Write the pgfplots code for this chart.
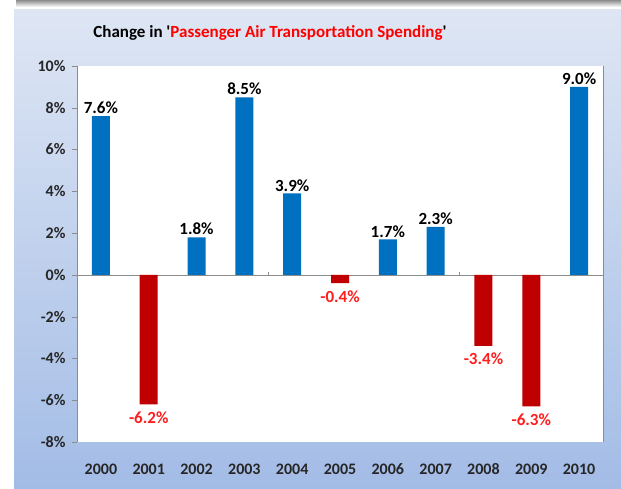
\documentclass[border=0pt]{standalone}
\usepackage{pgfplots}
\pgfplotsset{compat=1.18}
\usepackage{fontspec}
\setmainfont{Carlito}[Ligatures=TeXOff]
\definecolor{barblue}{RGB}{0,112,192}
\definecolor{barred}{RGB}{192,0,0}
\definecolor{labred}{RGB}{255,30,30}
\definecolor{frtop}{RGB}{222,230,244}
\definecolor{frbot}{RGB}{163,188,230}
\begin{document}
\begin{tikzpicture}
\useasboundingbox (0pt,0pt) rectangle (621pt,489pt);
\fill[white] (0pt,0pt) rectangle (621pt,489pt);
\shade[top color=black!45, bottom color=white] (16pt,489pt) rectangle (621pt,482pt);
\shade[top color=frtop, bottom color=frbot] (14pt,0pt) rectangle (621pt,479pt);
\node[font=\bfseries\fontsize{17}{20}\selectfont, anchor=base] at (270pt,451pt) {Change in '\textcolor{red}{Passenger Air Transportation Spending}'};
\begin{axis}[
  at={(77pt,47pt)}, anchor=south west,
  scale only axis, width=526pt, height=376pt,
  xmin=-0.5, xmax=10.5, ymin=-8, ymax=10,
  axis background/.style={fill=white},
  separate axis lines,
  x axis line style={draw=none},
  y axis line style={draw=black!45},
  xtick={0,...,10},
  xticklabels={2000,2001,2002,2003,2004,2005,2006,2007,2008,2009,2010},
  major x tick style={draw=none},
  ytick={-8,-6,...,10},
  yticklabels={-8\%,-6\%,-4\%,-2\%,0\%,2\%,4\%,6\%,8\%,10\%},
  ytick pos=left,
  tick align=outside,
  major tick length=5pt,
  major y tick style={draw=black!45},
  ticklabel style={font=\bfseries\fontsize{16}{18}\selectfont, text=black!85},
  yticklabel style={xshift=-3pt},
  xticklabel style={yshift=-13pt},
  ybar, bar width=18pt, bar shift=0pt,
  point meta=explicit symbolic,
  nodes near coords,
  nodes near coords style={font=\bfseries\fontsize{17}{19}\selectfont, inner sep=2pt},
  clip=false,
]
\draw[black!45] (axis cs:-0.5,0) -- (axis cs:10.5,0);
\draw[black!45] (axis cs:3.5,0) -- (axis cs:3.5,0.15);
\draw[black!45] (axis cs:7.5,0) -- (axis cs:7.5,0.15);
\addplot[fill=barblue, draw=none, nodes near coords style={text=black, anchor=south}] coordinates {
 (0,7.6) [7.6\%]
 (2,1.8) [1.8\%]
 (3,8.5) [8.5\%]
 (4,3.9) [3.9\%]
 (6,1.7) [1.7\%]
 (7,2.3) [2.3\%]
 (10,9.0) [9.0\%]
};
\addplot[fill=barred, draw=none, nodes near coords style={text=labred, anchor=north, yshift=-5pt}] coordinates {
 (1,-6.2) [-6.2\%]
 (5,-0.4) [-0.4\%]
 (8,-3.4) [-3.4\%]
 (9,-6.3) [-6.3\%]
};
\end{axis}
\end{tikzpicture}
\end{document}
